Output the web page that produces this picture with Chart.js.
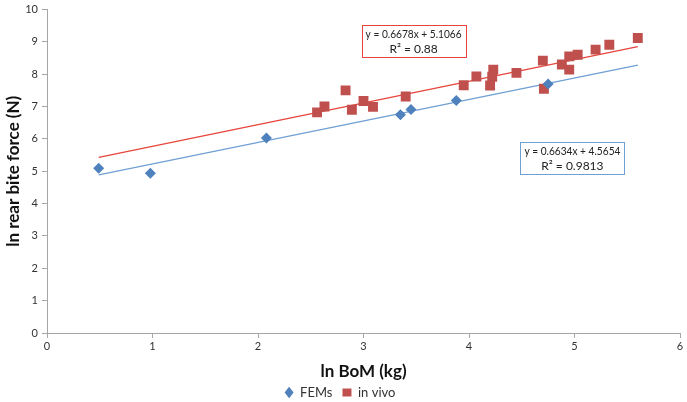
<!DOCTYPE html>
<html>
<head>
<meta charset="utf-8">
<script src="https://cdn.jsdelivr.net/npm/chart.js@4"></script>
<style>
html,body{margin:0;padding:0;background:#fff;}
#wrap{width:687px;height:402px;position:relative;}
</style>
</head>
<body>
<div id="wrap"><canvas id="c" width="687" height="402"></canvas></div>
<script>
// ---- data ----
const femX = [0.49, 0.98, 2.08, 3.35, 3.45, 3.88, 4.75];
const femY = [5.09, 4.94, 6.03, 6.75, 6.91, 7.19, 7.70];

const vivoX = [2.56, 2.63, 2.83, 2.89, 3.00, 3.09, 3.40, 3.95, 4.07, 4.20, 4.23, 4.22, 4.45, 4.70, 4.71, 4.88, 4.95, 4.95, 5.03, 5.20, 5.33, 5.60];
const vivoY = [6.82, 7.00, 7.50, 6.90, 7.17, 6.99, 7.31, 7.66, 7.93, 7.65, 8.14, 7.92, 8.04, 8.42, 7.55, 8.30, 8.55, 8.14, 8.60, 8.76, 8.91, 9.12];

// trend line end points
const femTrendX = [0.49, 5.60];
const femTrendY = [4.89, 8.28];
const vivoTrendX = [0.49, 5.60];
const vivoTrendY = [5.43, 8.85];

const xTicks = [0, 1, 2, 3, 4, 5, 6];
const yTicks = [0, 1, 2, 3, 4, 5, 6, 7, 8, 9, 10];

const seriesNames = ['FEMs', 'in vivo'];
const eqTexts = [
  ['y = 0.6634x + 4.5654', 'R\u00B2 = 0.9813'],
  ['y = 0.6678x + 5.1066', 'R\u00B2 = 0.88']
];

const pts = (xs, ys) => xs.map((x, i) => ({x: x, y: ys[i]}));

const FONT = "Lato, 'Open Sans', 'Liberation Sans', sans-serif";
const BLUE = '#4f81bd', RED = '#c0504d';
const BLUE_LINE = '#6f9fd3', RED_LINE = '#e8443c';

const annotPlugin = {
  id: 'eqBoxes',
  afterDatasetsDraw(chart, args, opts) {
    const ctx = chart.ctx;
    const xs = chart.scales.x, ys = chart.scales.y;
    opts.boxes.forEach(b => {
      const cx = xs.getPixelForValue(b.x), cy = ys.getPixelForValue(b.y);
      const w = b.w, h = b.h;
      const L = Math.round(cx - w / 2) + 0.5, T = Math.round(cy - h / 2) + 0.5;
      ctx.save();
      ctx.fillStyle = '#fff';
      ctx.fillRect(L, T, w, h);
      ctx.strokeStyle = b.color;
      ctx.lineWidth = 1;
      ctx.strokeRect(L, T, w, h);
      ctx.fillStyle = '#222';
      ctx.font = '12px ' + FONT;
      ctx.textBaseline = 'middle';
      b.lines.forEach((t, i) => {
        const tw = ctx.measureText(t).width;
        const maxW = w - 8;
        const sc = tw > maxW ? maxW / tw : 1;
        ctx.save();
        ctx.translate(cx, cy + (i === 0 ? -7 : 8));
        ctx.scale(sc, 1);
        ctx.textAlign = 'center';
        ctx.fillText(t, 0, 0);
        ctx.restore();
      });
      ctx.restore();
    });
  }
};

// keeps the legend strip at a fixed height so the plot area matches the reference
const legendHeightPlugin = {
  id: 'legendHeight',
  afterInit(chart) {
    const lg = chart.legend;
    if (!lg) return;
    const origFit = lg.fit.bind(lg);
    lg.fit = function () { origFit(); this.height = 18; };
    const origDraw = lg.draw.bind(lg);
    lg.draw = function () {
      const t = this.top, b = this.bottom;
      this.top = t - 8;
      this.bottom = b + 4;
      origDraw();
      this.top = t;
      this.bottom = b;
    };
  }
};

new Chart(document.getElementById('c'), {
  type: 'scatter',
  data: {
    datasets: [
      {label: seriesNames[0], data: pts(femX, femY), pointStyle: 'rectRot', pointRadius: 5.5, pointHoverRadius: 5.5,
       backgroundColor: BLUE, borderColor: BLUE, borderWidth: 0, order: 1},
      {label: seriesNames[1], data: pts(vivoX, vivoY), pointStyle: 'rect', pointRadius: 7, pointHoverRadius: 7,
       backgroundColor: RED, borderColor: RED, borderWidth: 0, order: 1},
      {label: 'trendFEM', data: pts(femTrendX, femTrendY), showLine: true, pointRadius: 0, borderColor: BLUE_LINE, borderWidth: 1.2, fill: false, order: 2},
      {label: 'trendVivo', data: pts(vivoTrendX, vivoTrendY), showLine: true, pointRadius: 0, borderColor: RED_LINE, borderWidth: 1.2, fill: false, order: 2}
    ]
  },
  options: {
    responsive: false,
    animation: false,
    events: [],
    layout: {padding: {top: 6, right: 7, left: 0, bottom: 0}},
    scales: {
      x: {
        type: 'linear', min: 0, max: 6,
        afterBuildTicks: s => { s.ticks = xTicks.map(v => ({value: v})); },
        afterFit: s => { s.height = 51; },
        grid: {display: true, drawOnChartArea: false, drawTicks: true, tickLength: 5, color: '#a6a6a6'},
        border: {color: '#a6a6a6', width: 1},
        ticks: {color: '#333', font: {family: FONT, size: 11}, padding: 2},
        title: {display: true, text: 'ln BoM (kg)', color: '#111', font: {family: FONT, size: 17, weight: 'bold'}, padding: {top: 2, bottom: 2}}
      },
      y: {
        type: 'linear', min: 0, max: 10,
        afterBuildTicks: s => { s.ticks = yTicks.map(v => ({value: v})); },
        afterFit: s => { s.width = 47; },
        grid: {display: true, drawOnChartArea: false, drawTicks: true, tickLength: 5, color: '#a6a6a6'},
        border: {color: '#a6a6a6', width: 1},
        ticks: {color: '#333', font: {family: FONT, size: 11, lineHeight: 1}, padding: 4},
        title: {display: true, text: 'ln rear bite force (N)', color: '#111', font: {family: FONT, size: 17, weight: 'bold'}, padding: {top: 3, bottom: 2}}
      }
    },
    plugins: {
      legend: {
        display: true, position: 'bottom',
        labels: {
          usePointStyle: true, pointStyleWidth: 9, boxHeight: 8, padding: 10,
          color: '#333', font: {family: FONT, size: 13},
          filter: item => seriesNames.includes(item.text)
        }
      },
      tooltip: {enabled: false},
      eqBoxes: {
        boxes: [
          {x: 3.475, y: 9.02, w: 104, h: 32, color: RED_LINE, lines: eqTexts[1]},
          {x: 4.98, y: 5.40, w: 104, h: 32, color: BLUE_LINE, lines: eqTexts[0]}
        ]
      }
    }
  },
  plugins: [annotPlugin, legendHeightPlugin]
});
</script>
</body>
</html>
